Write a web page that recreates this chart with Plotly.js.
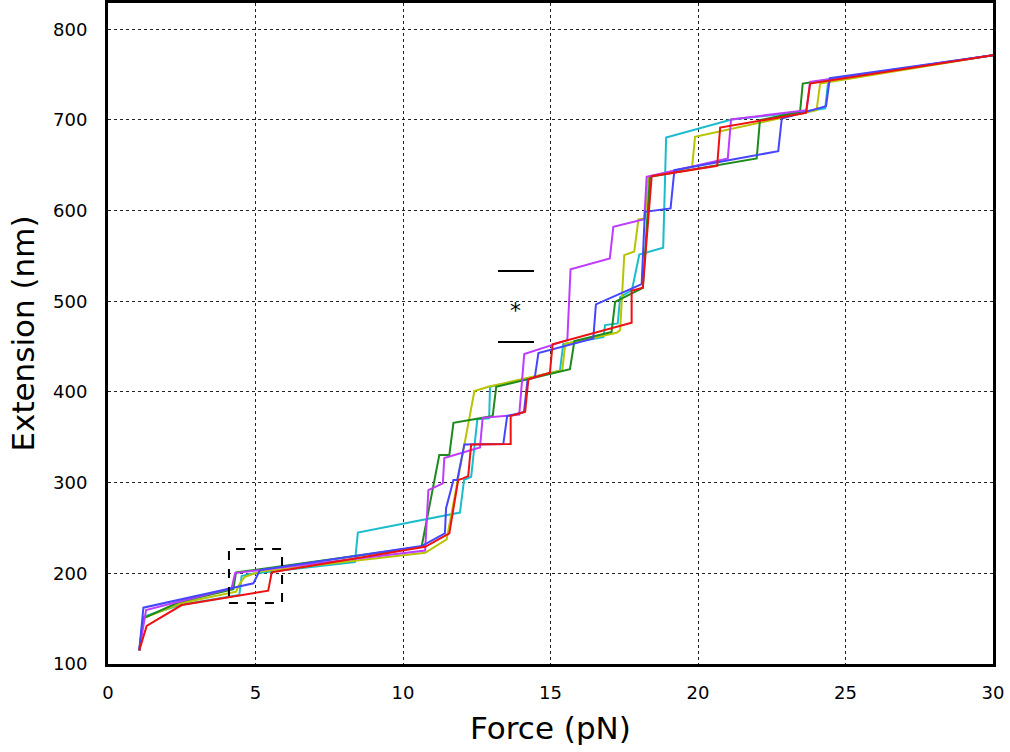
<!DOCTYPE html>
<html><head><meta charset="utf-8">
<script src="https://cdn.plot.ly/plotly-3.0.1.min.js"></script>
<style>html,body{margin:0;padding:0;background:#fff}#chart{width:1010px;height:752px}</style>
</head><body><div id="chart"></div>
<script>
// Force (pN) and Extension (nm) for six traces
const cyanF = [1.06,1.20,2.44,4.45,4.53,4.76,8.37,8.47,11.93,12.07,12.31,12.52,12.92,12.95,15.32,15.43,16.79,16.85,17.28,17.36,17.76,18.01,18.82,18.92,21.14,23.56,24.31,24.42,30];
const cyanE = [115,152,165,176,197,199,212.5,245,267,303,306.5,370,371,405.7,423.4,452.8,460.5,473.8,475.6,504.6,512.3,551.7,559,680.7,700.5,709,712.7,743.9,771.4];

const oliveF = [1.06,1.20,2.50,4.34,4.47,4.64,5.15,10.75,11.48,12.42,12.89,15.40,15.50,17.24,17.36,17.50,17.84,17.98,18.20,18.32,19.80,19.90,24.02,24.14,30];
const oliveE = [115,150.7,167.3,179.7,189,196.2,202,222.6,237.4,401,405.7,424,453,465.3,468.2,550.9,555,590.3,591.4,637.3,648.3,681.4,710.8,740.2,771.4];

const greenF = [1.06,1.20,2.44,4.25,4.34,5.15,10.63,11.23,11.57,11.71,13.04,13.16,15.66,15.81,17.07,17.19,18.13,18.37,21.99,22.10,23.46,23.55,30];
const greenE = [115,150.4,168.7,182.5,201.1,204.4,229.3,330.4,330.4,366,373.4,405.7,425.2,456.1,466.3,499.4,514.8,637.3,657.6,699.8,709,740.2,771.4];

const purpleF = [1.06,1.29,4.19,4.31,10.75,10.86,11.35,11.40,12.61,12.70,13.94,14.11,15.57,15.68,17.01,17.13,18.18,18.26,21.01,21.12,23.68,23.80,30];
const purpleE = [115,159.5,183.5,200.3,225.1,291.8,299.2,327.1,338.9,371.5,375.1,441.8,457.2,535.2,547.3,582.1,590.6,637.3,657.6,700.6,710.8,742.1,771.4];

const blueF = [1.06,1.20,4.25,4.93,5.15,10.63,11.42,11.46,11.71,11.84,12.08,13.40,13.53,14.10,14.22,14.47,14.59,16.45,16.54,18.09,18.20,19.07,19.20,22.72,22.84,24.34,24.47,30];
const blueE = [115,162.1,184.1,189,203.6,230.1,244.1,271.8,302.9,302.9,342.2,342.6,373.4,377.8,413.1,416.4,442.9,459.1,496.6,519,598.7,602.4,644.6,665.6,701.7,715.2,746.1,771.4];

const redF = [1.06,1.31,2.50,5.43,5.55,10.75,11.57,11.87,12.04,12.21,12.31,13.65,13.65,14.14,14.25,14.98,15.07,17.75,17.75,18.13,18.43,20.65,20.75,23.66,23.80,30];
const redE = [115,141.9,165,180.8,201.1,229.3,244.1,302.9,304.7,307.3,342.2,342.6,373.4,378.2,413.9,421.2,452.5,476.3,511.6,514.9,638,649.4,691.7,707.8,740.2,771.4];

const xTicks = [0,5,10,15,20,25,30];
const yTicks = [100,200,300,400,500,600,700,800];

const series = [
  {x: cyanF, y: cyanE, color: '#1bbccc'},
  {x: oliveF, y: oliveE, color: '#b9c400'},
  {x: greenF, y: greenE, color: '#1c8a1c'},
  {x: purpleF, y: purpleE, color: '#bf3cff'},
  {x: blueF, y: blueE, color: '#4646ff'},
  {x: redF, y: redE, color: '#ee1111'}
];

const traces = series.map(s => ({
  x: s.x, y: s.y, type: 'scatter', mode: 'lines',
  line: {color: s.color, width: 2}, showlegend: false, hoverinfo: 'skip'
}));

const font = {family: 'DejaVu Sans, Verdana, sans-serif', color: '#000'};

const layout = {
  width: 1010, height: 752,
  margin: {l: 108, r: 17, t: 3, b: 88},
  paper_bgcolor: '#fff', plot_bgcolor: '#fff',
  showlegend: false,
  xaxis: {
    range: [0, 30], tickvals: xTicks, ticktext: xTicks.map(String),
    showgrid: true, gridcolor: '#222', griddash: 'dot', gridwidth: 1,
    zeroline: false, showline: true, mirror: true, linecolor: '#000', linewidth: 3,
    ticks: 'outside', ticklen: 10, tickcolor: 'rgba(0,0,0,0)',
    tickfont: Object.assign({size: 18}, font),
    title: {text: 'Force (pN)', font: Object.assign({size: 31}, font), standoff: 16}
  },
  yaxis: {
    range: [100, 829], tickvals: yTicks, ticktext: yTicks.map(String),
    showgrid: true, gridcolor: '#222', griddash: 'dot', gridwidth: 1,
    zeroline: false, showline: true, mirror: true, linecolor: '#000', linewidth: 3,
    ticks: 'outside', ticklen: 14, tickcolor: 'rgba(0,0,0,0)',
    tickfont: Object.assign({size: 18}, font),
    title: {text: 'Extension (nm)', font: Object.assign({size: 31}, font), standoff: 10}
  },
  shapes: [
    {type: 'rect', xref: 'x', yref: 'y', x0: 4.10, x1: 5.90, y0: 167.3, y1: 226.8,
     line: {color: '#000', width: 2, dash: 'dash'}},
    {type: 'line', xref: 'x', yref: 'y', x0: 13.22, x1: 14.44, y0: 533.3, y1: 533.3,
     line: {color: '#000', width: 2}},
    {type: 'line', xref: 'x', yref: 'y', x0: 13.22, x1: 14.44, y0: 455, y1: 455,
     line: {color: '#000', width: 2}}
  ],
  annotations: [
    {x: 13.83, y: 490, xref: 'x', yref: 'y', text: '*', showarrow: false,
     font: Object.assign({size: 22}, font)}
  ]
};

Plotly.newPlot('chart', traces, layout, {displayModeBar: false, staticPlot: true});
</script>
</body></html>
